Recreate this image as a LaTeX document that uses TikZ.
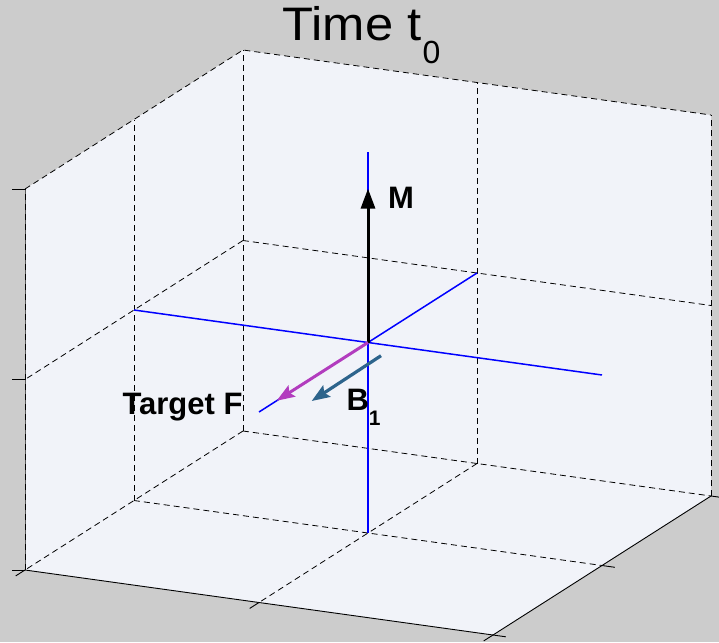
\documentclass[tikz,border=0pt]{standalone}
\usepackage{fontspec}
\setmainfont{Liberation Sans}
\usetikzlibrary{arrows.meta}
\definecolor{bgc}{RGB}{204,204,204}
\definecolor{panec}{RGB}{241,243,249}
\definecolor{magc}{RGB}{178,60,190}
\definecolor{steelc}{RGB}{45,100,140}
\begin{document}
\begin{tikzpicture}[x=1pt,y=-1pt,
  gridline/.style={black, line width=0.8pt, dash pattern=on 6pt off 4pt},
  frontedge/.style={black, line width=0.9pt},
  tickline/.style={black, line width=0.9pt},
  axisline/.style={blue, line width=1.5pt},
  lbl/.style={inner sep=0pt, outer sep=0pt, anchor=base west, font=\fontsize{31}{31}\selectfont\bfseries}]
\fill[bgc] (0,0) rectangle (719,642);
\useasboundingbox (0,0) rectangle (719,642);
\begin{scope}[shift={(243pt,-431pt)}, x={(-218pt,-139pt)}, y={(468pt,-65pt)}, z={(0pt,381pt)}]
  % panes
  \fill[panec] (0,0,0) -- (1,0,0) -- (1,0,1) -- (0,0,1) -- cycle;
  \fill[panec] (0,0,0) -- (0,1,0) -- (0,1,1) -- (0,0,1) -- cycle;
  \fill[panec] (0,0,0) -- (1,0,0) -- (1,1,0) -- (0,1,0) -- cycle;
  % grid lines
  \draw[gridline] (0.5,0,0) -- (0.5,0,1);
  \draw[gridline] (0,0,0.5) -- (1,0,0.5);
  \draw[gridline] (0,0.5,0) -- (0,0.5,1);
  \draw[gridline] (0,0,0.5) -- (0,1,0.5);
  \draw[gridline] (0.5,0,0) -- (0.5,1,0);
  \draw[gridline] (0,0.5,0) -- (1,0.5,0);
  % box edges
  \draw[gridline] (0,0,0) -- (0,0,1);
  \draw[gridline] (0,0,0) -- (1,0,0);
  \draw[gridline] (0,0,0) -- (0,1,0);
  \draw[gridline] (1,0,1) -- (0,0,1) -- (0,1,1);
  \draw[gridline] (0,1,0) -- (0,1,1);
  \draw[gray!70!black, line width=1pt] (1,0,0) -- (1,0,1);
  \draw[gridline] (1,0,0) -- (1,0,1);
  \draw[frontedge] (1,0,0) -- (1,1,0) -- (0,1,0);
  % ticks
  \foreach \w in {0,0.5,1} \draw[tickline] (1,0,\w) -- ++(-13pt,0pt);
  \foreach \v in {0,0.5,1} \draw[tickline] (1,\v,0) -- ++(-9.3pt,-5.9pt);
  \foreach \u in {0,0.5,1} \draw[tickline] (\u,1,0) -- ++(12.9pt,-1.8pt);
  % blue axes
  \coordinate (zb) at (0.5,0.5,0);
  \coordinate (zt) at (0.5,0.5,1);
  \coordinate (yl) at (0.5,0,0.5);
  \coordinate (yr) at (0.5,1,0.5);
  \coordinate (xf) at (1,0.5,0.5);
  \coordinate (xb) at (0,0.5,0.5);
  \coordinate (O) at (0.5,0.5,0.5);
  \coordinate (Mtip) at (0.5,0.5,0.904);
  \coordinate (Ftip) at (0.919,0.5,0.5);
  \draw[axisline] (zb) -- (zt);
  \draw[axisline] (yl) -- (yr);
  \draw[axisline] (xb) -- (xf);
\end{scope}
\coordinate (Bs) at (381,355.7);
\coordinate (Bt) at (311.7,401);
\draw[black, line width=3pt, -{Triangle[length=20pt,width=14pt]}] (O) -- (Mtip);
\draw[magc, line width=3pt, -{Stealth[length=18pt,width=13pt,inset=3pt]}] (O) -- (Ftip);
\draw[steelc, line width=3.2pt, -{Stealth[length=18pt,width=13.5pt,inset=3pt]}] (Bs) -- (Bt);
% labels
\node[lbl] (Mlab) at (388,208.3) {M};
\node[lbl] (Flab) at (122.5,414.3) {Target F};
\node[lbl] (Blab) at (346.5,410.5) {B\raisebox{-15pt}{\fontsize{21}{21}\selectfont\bfseries 1}};
\node[inner sep=0pt, outer sep=0pt, anchor=base west, font=\fontsize{47}{47}\selectfont] (title) at (282.5,40.7) {\scalebox{1.08}[1]{Time t}\hspace{1pt}\raisebox{-22.6pt}{\fontsize{32}{32}\selectfont 0}};
\end{tikzpicture}
\end{document}
